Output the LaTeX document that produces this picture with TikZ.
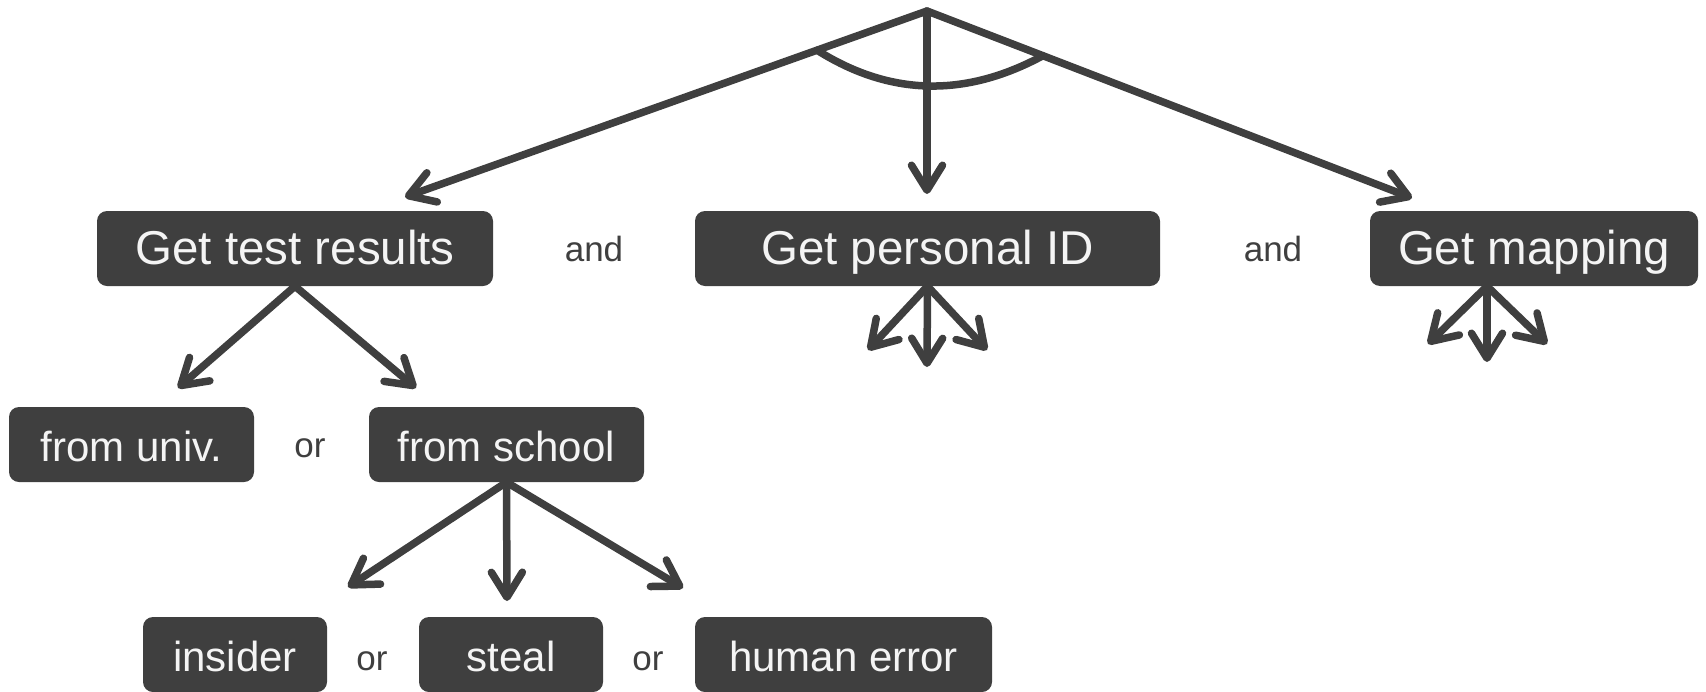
\documentclass[tikz,border=0pt]{standalone}
\usepackage{fontspec}
\setmainfont{Liberation Sans}
\usetikzlibrary{arrows.meta,calc}
\definecolor{boxc}{HTML}{3F3F3F}
\definecolor{linec}{HTML}{3F3F3F}
\definecolor{txtc}{HTML}{F4F4F4}
\tikzset{
  box/.style={fill=boxc, rounded corners=10pt, text=txtc, inner sep=0pt, minimum height=75pt, text depth=0pt},
  bigbox/.style={box, font=\fontsize{47.5}{56}\selectfont, text height=31pt},
  smallbox/.style={box, font=\fontsize{42}{50}\selectfont, text height=33pt},
  conj/.style={text=boxc, font=\fontsize{35}{42}\selectfont, anchor=base, inner sep=0pt},
  arr/.style={draw=linec, line width=7.5pt, line cap=round,
    -{Straight Barb[length=25pt,width=31pt,line cap=round,line join=round]}},
  plain/.style={draw=linec, line width=7.5pt, line cap=round}
}
\begin{document}
\begin{tikzpicture}[x=1pt,y=-1pt]
\useasboundingbox (0,0) rectangle (1706,691);
% boxes
\node[bigbox, minimum width=396pt] (gtr) at (295,248.5) {Get test results};
\node[bigbox, minimum width=465pt] (gpi) at (927.5,248.5) {Get personal ID};
\node[bigbox, minimum width=328pt] (gm) at (1534,248.5) {Get mapping};
\node[smallbox, minimum width=245pt] (fu) at (131.5,444.5) {from univ.};
\node[smallbox, minimum width=275pt] (fs) at (506.5,444.5) {from school};
\node[smallbox, minimum width=184pt] (ins) at (235,654.5) {insider};
\node[smallbox, minimum width=184pt] (st) at (511,654.5) {steal};
\node[smallbox, minimum width=297pt] (he) at (843.5,654.5) {human error};
% conjunctions
\node[conj] (and1) at (594,261) {and};
\node[conj] (and2) at (1273,261) {and};
\node[conj] (or1) at (310,457) {or};
\node[conj] (or2) at (372,670) {or};
\node[conj] (or3) at (648,670) {or};
% top arrows
\coordinate (apex) at (927,11);
\coordinate (tl) at (405,197);
\coordinate (tm) at (927,194);
\coordinate (tr) at (1412,198);
\draw[arr] (apex) -- (tl);
\draw[arr] (apex) -- (tm);
\draw[arr] (apex) -- (tr);
\coordinate (al) at ($(apex)!0.2107!(tl)$);
\coordinate (ar) at ($(apex)!0.239!(tr)$);
\draw[plain] (al) .. controls (889.7,96.1) and (965,97.9) .. (ar);
% get test results
\coordinate (g1) at (178,388);
\coordinate (g2) at (416,388);
\draw[arr] (gtr.south) -- (g1);
\draw[arr] (gtr.south) -- (g2);
% get personal id
\coordinate (p1) at (868,350);
\coordinate (p2) at (927,367);
\coordinate (p3) at (987,350);
\draw[arr] (gpi.south) -- (p1);
\draw[arr] (gpi.south) -- (p2);
\draw[arr] (gpi.south) -- (p3);
% get mapping
\coordinate (gmo) at ($(gm.south)+(-47,0)$);
\coordinate (m1) at (1428,344);
\coordinate (m2) at (1487,362);
\coordinate (m3) at (1547,344);
\draw[arr] (gmo) -- (m1);
\draw[arr] (gmo) -- (m2);
\draw[arr] (gmo) -- (m3);
% from school
\coordinate (s1) at (348,587);
\coordinate (s2) at (507,601);
\coordinate (s3) at (683,588);
\draw[arr] (fs.south) -- (s1);
\draw[arr] (fs.south) -- (s2);
\draw[arr] (fs.south) -- (s3);
\end{tikzpicture}
\end{document}
